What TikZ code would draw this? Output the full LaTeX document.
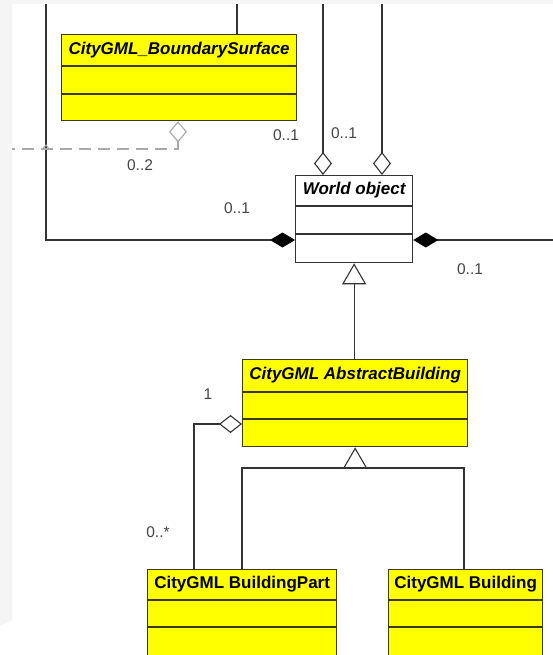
\documentclass[tikz,border=0pt]{standalone}
\usepackage{fontspec}
\setmainfont{Liberation Sans}
\usepackage{xcolor}
\usepackage{tikz}
\usetikzlibrary{arrows.meta}
\definecolor{classyellow}{HTML}{FFFF00}
\definecolor{boxline}{HTML}{3A3A1A}
\definecolor{connline}{HTML}{333333}
\definecolor{labelgrey}{HTML}{444444}
\definecolor{dashgrey}{HTML}{A8A8A8}
\definecolor{stripgrey}{HTML}{F5F5F5}

\begin{document}
\begin{tikzpicture}[x=1pt,y=-1pt,
  classbox/.style={draw=boxline,fill=classyellow,line width=1.3pt,anchor=north west,inner sep=0pt},
  plainbox/.style={classbox,draw=connline,fill=white},
  divider/.style={draw=boxline,line width=1.3pt},
  headtext/.style={font=\fontsize{17}{20}\selectfont\bfseries\itshape,inner sep=0pt},
  headplain/.style={font=\fontsize{17}{20}\selectfont\bfseries,inner sep=0pt},
  mult/.style={font=\fontsize{15.5}{18}\selectfont,text=labelgrey,inner sep=0pt},
  conn/.style={draw=connline,line width=1.2pt},
  agg/.style={conn,-{Diamond[open,length=23pt,width=18pt,line width=1.1pt]}},
  comp/.style={conn,-{Diamond[length=25pt,width=15pt,color=black]}},
  inherit/.style={conn,-{Triangle[open,length=21pt,width=24pt,line width=1.1pt,fill=white]}},
  dep/.style={draw=dashgrey,line width=1.2pt,dash pattern=on 12pt off 7pt,dash phase=9pt,
    -{Diamond[open,length=21pt,width=18pt,line width=1.1pt]}}]
\useasboundingbox (0,0) rectangle (553,655);
\clip (0,0) rectangle (553,655);
\fill[white] (0,0) rectangle (553,655);
\fill[stripgrey] (0,0) rectangle (553,4);
\fill[stripgrey] (0,4) -- (12,4) -- (12,620) -- (0,626) -- cycle;

% classes
\node[classbox,minimum width=235pt,minimum height=86pt] (bsurf) at (61,34) {};
\node[plainbox,minimum width=117pt,minimum height=87pt] (wobj) at (295,175) {};
\node[classbox,minimum width=225pt,minimum height=87pt] (absb) at (242,359) {};
\node[classbox,minimum width=189pt,minimum height=100pt] (bpart) at (147,569) {};
\node[classbox,minimum width=154pt,minimum height=100pt] (bldg) at (388,569) {};

\draw[divider] ([yshift=-32pt]bsurf.north west) -- ([yshift=-32pt]bsurf.north east);
\draw[divider] ([yshift=-60pt]bsurf.north west) -- ([yshift=-60pt]bsurf.north east);
\draw[divider,draw=connline] ([yshift=-31pt]wobj.north west) -- ([yshift=-31pt]wobj.north east);
\draw[divider,draw=connline] ([yshift=-59pt]wobj.north west) -- ([yshift=-59pt]wobj.north east);
\draw[divider] ([yshift=-33pt]absb.north west) -- ([yshift=-33pt]absb.north east);
\draw[divider] ([yshift=-60pt]absb.north west) -- ([yshift=-60pt]absb.north east);
\foreach \c in {bpart,bldg}{
  \draw[divider] ([yshift=-31pt]\c.north west) -- ([yshift=-31pt]\c.north east);
  \draw[divider] ([yshift=-58pt]\c.north west) -- ([yshift=-58pt]\c.north east);
}

\node[headtext] (bsurf-t) at ([yshift=-16pt]bsurf.north) {CityGML\_BoundarySurface};
\node[headtext] (wobj-t) at ([yshift=-15.5pt]wobj.north) {World object};
\node[headtext] (absb-t) at ([yshift=-16.5pt]absb.north) {CityGML AbstractBuilding};
\node[headplain] (bpart-t) at ([yshift=-15.5pt]bpart.north) {CityGML BuildingPart};
\node[headplain] (bldg-t) at ([yshift=-15.5pt]bldg.north) {CityGML Building};

% connectors
\coordinate (bstop) at (237,4);
\draw[conn] (bstop) -- (bstop |- bsurf.north);
\coordinate (ltop) at (46,4);
\coordinate (lcorner) at (46,240);
\draw[comp] (ltop) -- (lcorner) -- (lcorner -| wobj.west);
\coordinate (rend) at (553,240);
\draw[comp] (rend) -- (rend -| wobj.east);
\coordinate (wtopA) at (323,4);
\coordinate (wtopB) at (382,4);
\draw[agg] (wtopA) -- (wtopA |- wobj.north);
\draw[agg] (wtopB) -- (wtopB |- wobj.north);
\coordinate (dstart) at (12,149);
\coordinate (dcorner) at (178,149);
\draw[dep] (dstart) -- (dcorner) -- (dcorner |- bsurf.south);
\draw[draw=dashgrey,line width=1pt] (42,150) -- (46,145) -- (50,150);
\draw[inherit] (wobj.south |- absb.north) -- (wobj.south);
\coordinate (pcorner) at (194,424);
\draw[agg] (pcorner |- bpart.north) -- (pcorner) -- (pcorner -| absb.west);
\coordinate (gleft) at (242,468);
\coordinate (gright) at (464,468);
\draw[conn] (gleft |- bpart.north) -- (gleft) -- (gright) -- (gright |- bldg.north);
\draw[inherit] (absb.south |- gleft) -- (absb.south);

% multiplicities
\node[mult] (m-bs) at (140,165) {0..2};
\node[mult] (m-bw) at (286,135) {0..1};
\node[mult] (m-wt) at (344,133) {0..1};
\node[mult] (m-wl) at (237,208) {0..1};
\node[mult] (m-wr) at (470,269) {0..1};
\node[mult] (m-ab) at (208,394) {1};
\node[mult] (m-bp) at (158,532) {0..*};
\end{tikzpicture}
\end{document}
